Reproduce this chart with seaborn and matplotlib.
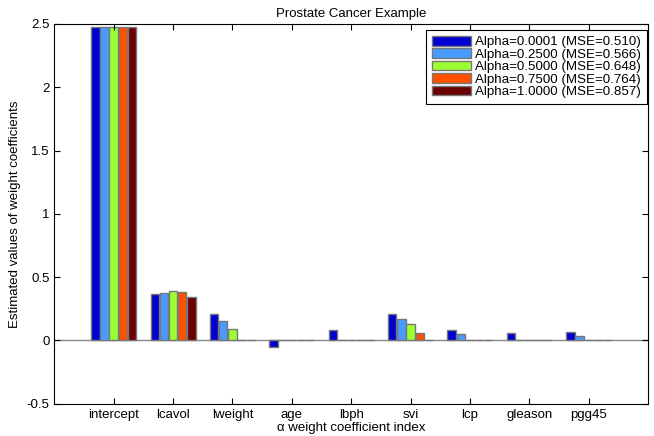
import numpy as np
import pandas as pd
import matplotlib
matplotlib.use("Agg")
import matplotlib.pyplot as plt
import seaborn as sns
from matplotlib.ticker import FormatStrFormatter

# coeficientes
features = ["intercept", "lcavol", "lweight", "age", "lbph", "svi", "lcp", "gleason", "pgg45"]
alphas = ["Alpha=0.0001 (MSE=0.510)", "Alpha=0.2500 (MSE=0.566)", "Alpha=0.5000 (MSE=0.648)",
          "Alpha=0.7500 (MSE=0.764)", "Alpha=1.0000 (MSE=0.857)"]
w_a0 = [2.478, 0.370, 0.206, -0.048, 0.079, 0.210, 0.082, 0.055, 0.069]
w_a1 = [2.478, 0.376, 0.156, 0.0, 0.005, 0.170, 0.053, 0.005, 0.037]
w_a2 = [2.478, 0.390, 0.087, 0.0, 0.0, 0.132, 0.005, 0.0, 0.0]
w_a3 = [2.478, 0.385, 0.005, 0.0, 0.0, 0.055, 0.0, 0.0, 0.0]
w_a4 = [2.478, 0.343, 0.0, 0.0, 0.0, 0.0, 0.0, 0.0, 0.0]
cores = ["#0000d0", "#4a9bff", "#9cff33", "#ff5000", "#6a0000"]

df = pd.DataFrame({
    "feature": features * 5,
    "alpha": [a for a in alphas for _ in features],
    "w": w_a0 + w_a1 + w_a2 + w_a3 + w_a4,
})

plt.rcParams["font.family"] = ["Liberation Sans", "DejaVu Sans"]
fig = plt.figure(figsize=(6.54, 4.36), dpi=100)
ax = fig.add_axes([0.083, 0.074, 0.908, 0.871])

sns.barplot(data=df, x="feature", y="w", hue="alpha", order=features, hue_order=alphas,
            palette=cores, width=0.77, gap=0.08, edgecolor="#777777", linewidth=1,
            saturation=1, errorbar=None, ax=ax)

ax.axhline(0, color="#888888", linewidth=1, zorder=0)
ax.set_xlim(-1, 9)
ax.set_ylim(-0.5, 2.5)
ax.set_yticks([-0.5, 0, 0.5, 1, 1.5, 2, 2.5])
ax.yaxis.set_major_formatter(FormatStrFormatter("%g"))
ax.tick_params(direction="in", top=True, right=True, labelsize=9.5, length=4)
ax.set_title("Prostate Cancer Example", fontsize=9.5, pad=5)
ax.set_xlabel("α weight coefficient index", fontsize=9.5, labelpad=1)
ax.set_ylabel("Estimated values of weight coefficients", fontsize=9.5)

leg = ax.legend(loc="upper right", bbox_to_anchor=(0.998, 0.984), borderaxespad=0,
                fontsize=9.6, handlelength=2.9, handleheight=0.72, handletextpad=0.3,
                labelspacing=0.0, fancybox=False, framealpha=1,
                edgecolor="black", borderpad=0.45)
leg.get_frame().set_linewidth(0.8)

plt.savefig("out.png", dpi=100)
